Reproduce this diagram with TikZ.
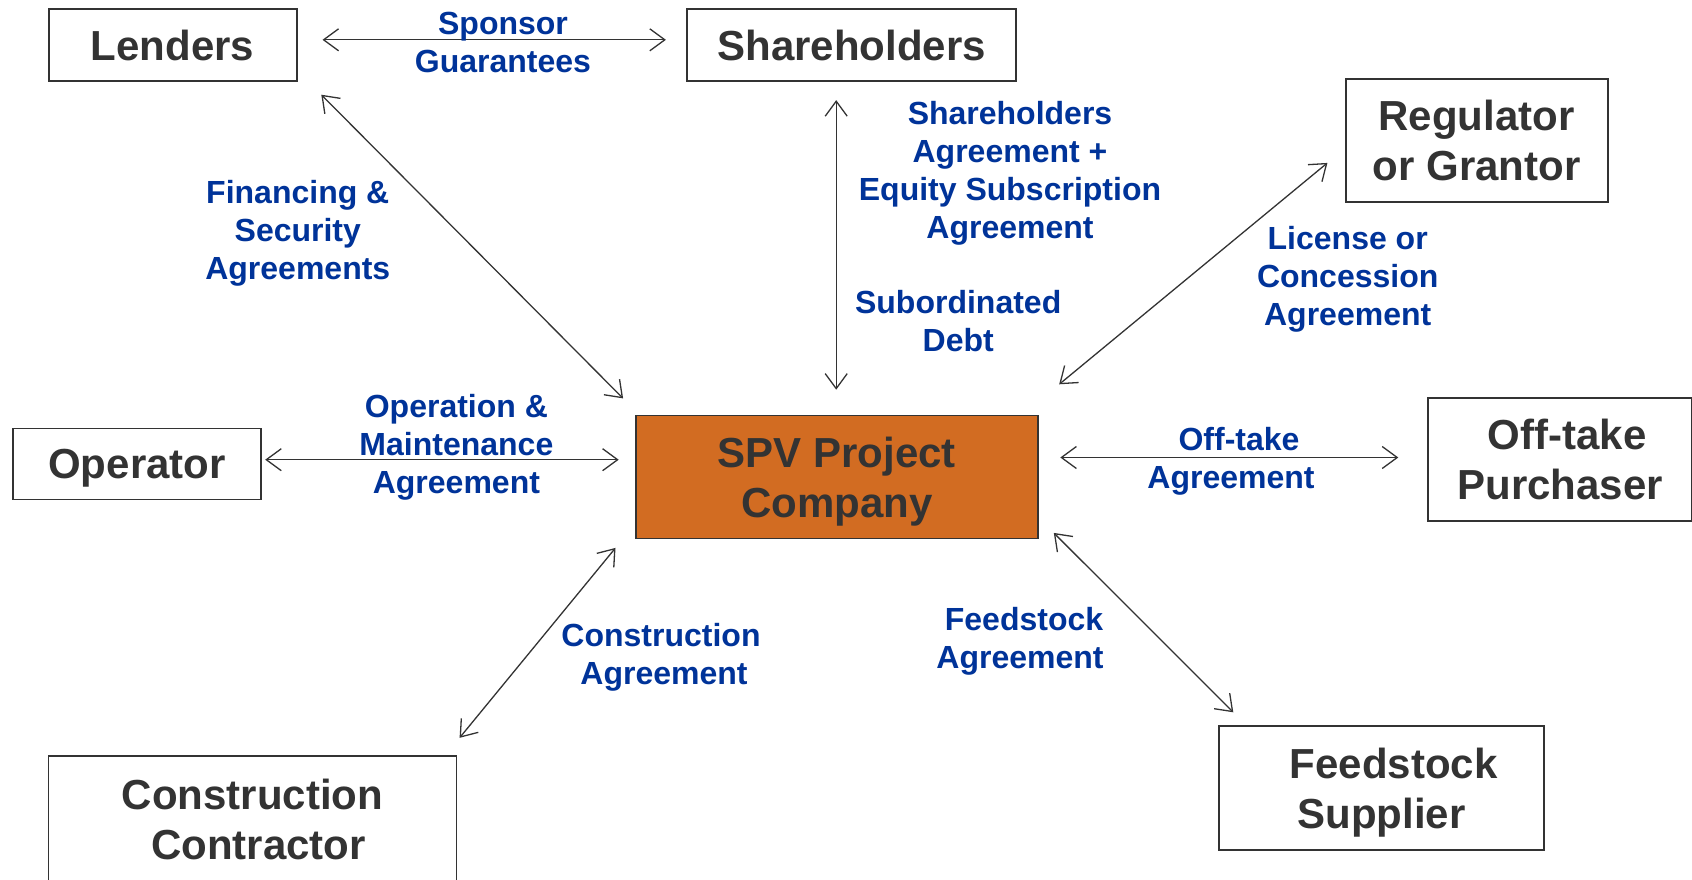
\documentclass[tikz,border=0pt]{standalone}
\usepackage{fontspec}
\setmainfont{Liberation Sans}
\usetikzlibrary{arrows.meta}
\definecolor{labelblue}{RGB}{0,51,153}
\definecolor{spvorange}{RGB}{210,108,34}
\definecolor{ink}{RGB}{51,51,51}

\begin{document}
\begin{tikzpicture}[x=1pt,y=-1pt,
  party/.style={draw=ink, line width=1.8pt, text=ink, fill=white,
    font=\bfseries\fontsize{42}{50}\selectfont, align=center, inner sep=0pt,
    text depth=0pt},
  deal/.style={text=labelblue, font=\bfseries\fontsize{32}{38}\selectfont,
    align=center, inner sep=0pt},
  link/.style={draw=ink, line width=1.3pt,
    {Straight Barb[length=15pt,width=22pt]}-{Straight Barb[length=15pt,width=22pt]}}
]
\useasboundingbox (0,0) rectangle (1692,879);

% parties
\node[party, minimum width=248pt, minimum height=72pt] (lenders) at (172.6,44.8) {Lenders};
\node[party, minimum width=329pt, minimum height=72pt] (share) at (851.8,44.8) {Shareholders};
\node[party, minimum width=262pt, minimum height=123pt] (reg) at (1476.6,140.3) {Regulator\\or Grantor};
\node[party, minimum width=248pt, minimum height=71pt] (oper) at (137,464) {Operator};
\node[party, fill=spvorange, minimum width=402pt, minimum height=123pt] (spv) at (836.8,476.9) {SPV Project\\Company};
\node[party, minimum width=264pt, minimum height=123pt] (off) at (1560.3,459.7) {\hspace*{14pt}Off-take\\Purchaser};
\node[party, minimum width=325pt, minimum height=124pt] (feed) at (1381.6,788.2) {\hspace*{24pt}Feedstock\\Supplier};
\node[party, minimum width=408pt, minimum height=126pt] (cons) at (252.5,819) {Construction\\\hspace*{12pt}Contractor};

% agreements between the parties
\draw[link] ([shift={(25,-5)}]lenders.east) -- ([shift={(-20.5,-5)}]share.west);
\draw[link] ([shift={(23.8,13)}]lenders.south east) -- ([shift={(-11.8,-16.1)}]spv.north west);
\draw[link] ([shift={(-15.6,18.4)}]share.south) -- ([shift={(-0.6,-24.8)}]spv.north);
\draw[link] ([shift={(-17.3,22.6)}]reg.west) -- ([shift={(20.5,-30.2)}]spv.north east);
\draw[link] ([shift={(3.3,-4.3)}]oper.east) -- ([shift={(-16.2,-17.2)}]spv.west);
\draw[link] ([shift={(21.6,-19.4)}]spv.east) -- ([shift={(-29.1,-2.2)}]off.west);
\draw[link] ([shift={(-19.4,8.6)}]spv.south west) -- ([shift={(2.2,-17.3)}]cons.north east);
\draw[link] ([shift={(15.1,-6.4)}]spv.south east) -- ([shift={(15.1,-13)}]feed.north west);

% agreement labels
\node[deal] (lSponsor) at (503,42.6) {Sponsor\\Guarantees};
\node[deal] (lFin) at (297.8,233.7) {Financing \&\\Security\\Agreements};
\node[deal] (lSha) at (1010,173.4) {Shareholders\\Agreement +\\Equity Subscription\\Agreement};
\node[deal] (lSub) at (958.2,321) {Subordinated\\Debt};
\node[deal] (lLic) at (1347.7,279.7) {License or\\Concession\\Agreement};
\node[deal] (lOM) at (456.4,447.4) {Operation \&\\Maintenance\\Agreement};
\node[deal] (lOff) at (1231,461.4) {\hspace*{16pt}Off-take\\Agreement};
\node[deal] (lCon) at (661,657.3) {Construction\\\hspace*{6pt}Agreement};
\node[deal] (lFeed) at (1020,641.6) {\hspace*{8pt}Feedstock\\Agreement};
\end{tikzpicture}
\end{document}
